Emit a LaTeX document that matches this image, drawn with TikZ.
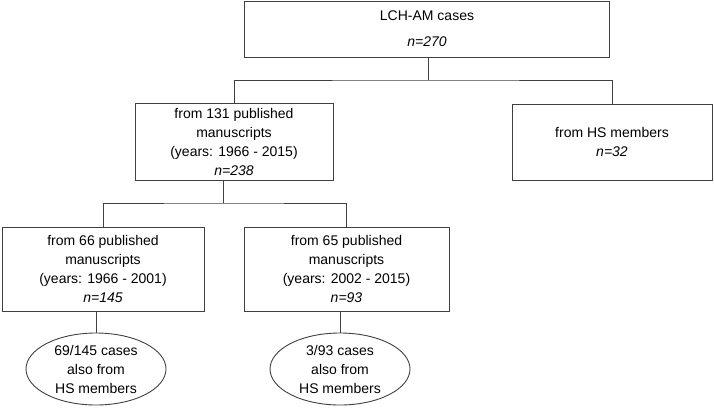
\documentclass[tikz,border=0pt]{standalone}
\usepackage{fontspec}
\setmainfont{Liberation Sans}
\usetikzlibrary{positioning,shapes.geometric}

\tikzset{
  box/.style={draw=black!75, line width=0.9pt, rectangle, align=center, inner sep=2pt},
  hsoval/.style={draw=black!75, line width=0.9pt, ellipse, inner sep=0pt,
    minimum width=140pt, minimum height=72pt},
  link/.style={draw=black!75, line width=0.9pt}
}

\begin{document}
\begin{tikzpicture}[x=1pt,y=1pt,font=\fontsize{14}{19}\selectfont]

% Рамка
\useasboundingbox (0,0) rectangle (714,-407);

% Верхний блок
\node[box, minimum width=365pt, minimum height=56pt] (cases) at (427,-29)
  {LCH-AM cases\\[7pt]\textit{n=270}};

% Второй уровень
\node[box, minimum width=198pt, minimum height=77pt] (pub131) at (234,-141.5)
  {from 131 published\\manuscripts\\(years: 1966 - 2015)\\\textit{n=238}};
\node[box, minimum width=200pt, minimum height=76pt] (hs) at (612,-142)
  {from HS members\\\textit{n=32}};

% Третий уровень
\node[box, minimum width=202pt, minimum height=84pt] (pub66) at (103,-269)
  {from 66 published\\manuscripts\\(years: 1966 - 2001)\\\textit{n=145}};
\node[box, minimum width=205pt, minimum height=84pt] (pub65) at (346.5,-269)
  {from 65 published\\manuscripts\\(years: 2002 - 2015)\\\textit{n=93}};

% Овалы
\node[hsoval, label={[align=center]center:69/145 cases\\also from\\HS members}] (also66) at (96,-369) {};
\node[hsoval, label={[align=center]center:3/93 cases\\also from\\HS members}] (also65) at (340,-369) {};

% Соединения
\coordinate (bus1) at (428,-80);
\coordinate (bus2) at (223,-203);
\draw[link] (bus1 |- cases.south) -- (bus1);
\draw[link] (pub131.north) |- (bus1) -| (hs.north);
\draw[link] (bus2 |- pub131.south) -- (bus2);
\draw[link] (pub66.north) |- (bus2) -| (pub65.north);
\draw[link] (also66.north |- pub66.south) -- (also66.north);
\draw[link] (also65.north |- pub65.south) -- (also65.north);

\end{tikzpicture}
\end{document}
